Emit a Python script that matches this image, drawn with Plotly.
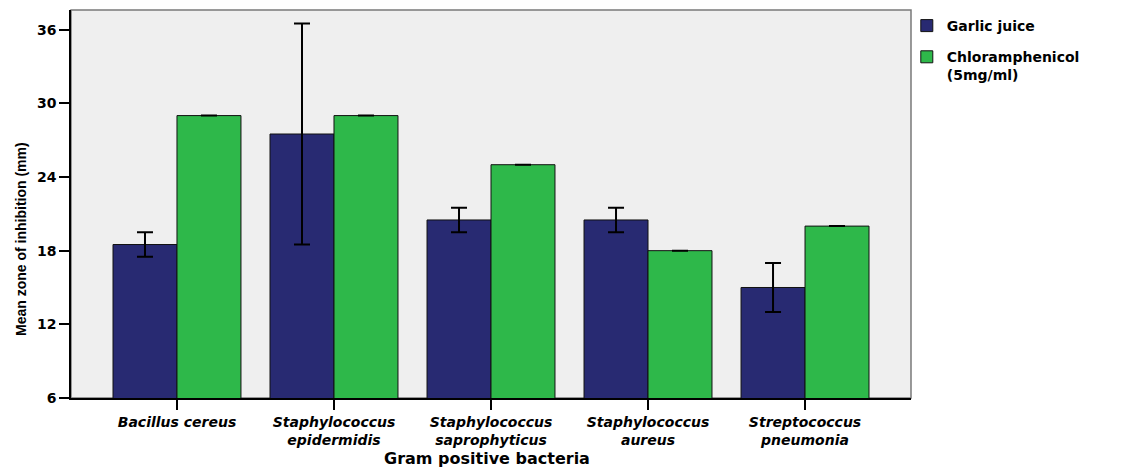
import plotly.graph_objects as go

categories = ["Bacillus cereus", "Staphylococcus<br>epidermidis", "Staphylococcus<br>saprophyticus",
              "Staphylococcus<br>aureus", "Streptococcus<br>pneumonia"]
garlic = [18.5, 27.5, 20.5, 20.5, 15.0]
garlic_err = [1.0, 9.0, 1.0, 1.0, 2.0]
chloram = [29.0, 29.0, 25.0, 18.0, 20.0]
chloram_err = [0.0, 0.0, 0.0, 0.0, 0.0]
y_ticks = [6, 12, 18, 24, 30, 36]

FONT = "DejaVu Sans, Liberation Sans, Arial"

fig = go.Figure()
fig.add_trace(go.Bar(
    x=categories, y=garlic, name="Garlic juice", legendgroup="g1",
    marker=dict(color="#282A72", line=dict(color="#111111", width=1)),
    error_y=dict(type="data", array=garlic_err, color="black", thickness=2, width=8),
))
fig.add_trace(go.Bar(
    x=categories, y=chloram, name="Chloramphenicol<br>(5mg/ml)", legendgroup="g2",
    marker=dict(color="#2EB84A", line=dict(color="#111111", width=1)),
    error_y=dict(type="data", array=chloram_err, color="black", thickness=2, width=8),
))

# page has an 8px body margin, so the figure is 8px smaller on each axis
fig.update_layout(
    width=1130, height=464,
    margin=dict(l=63, r=227, t=2, b=74),
    paper_bgcolor="white", plot_bgcolor="#EFEFEF",
    barmode="group", bargap=0.185, bargroupgap=0,
    font=dict(family=FONT, color="black"),
    legend=dict(x=0.995, xanchor="left", y=1.0, yanchor="top",
                font=dict(family=FONT, size=14, weight="bold"),
                valign="top", traceorder="grouped", tracegroupgap=10,
                bgcolor="rgba(0,0,0,0)"),
    showlegend=True,
)
fig.update_xaxes(
    range=[-0.675, 4.675], showline=True, linecolor="black", linewidth=1.5,
    ticks="outside", ticklen=10, tickwidth=2, tickcolor="black",
    tickfont=dict(family=FONT, size=14, weight="bold", style="italic"),
    showgrid=False, zeroline=False,
)
fig.update_yaxes(
    range=[6, 37.6], tickvals=y_ticks, showline=True, linecolor="black", linewidth=1.5,
    ticks="outside", ticklen=10, tickwidth=1.5, tickcolor="black",
    tickfont=dict(family=FONT, size=14, weight="bold"),
    showgrid=False, zeroline=False,
)
fig.add_shape(type="rect", xref="paper", yref="paper", x0=0, x1=1, y0=0, y1=1,
              line=dict(color="#7a7a7a", width=1.5), layer="below")
fig.add_annotation(text="Mean zone of inhibition (mm)", xref="paper", yref="paper",
                   x=(21 - 71) / 840, y=(398 - 239) / 388, xanchor="center", yanchor="middle",
                   textangle=-90, showarrow=False,
                   font=dict(family="Liberation Sans Narrow, Liberation Sans, Arial",
                             size=14, weight="bold", color="black"))
fig.add_annotation(text="Gram positive bacteria", xref="paper", yref="paper",
                   x=(487 - 71) / 840, y=(398 - 459) / 388, xanchor="center", yanchor="middle",
                   showarrow=False, font=dict(family=FONT, size=16, weight="bold", color="black"))

fig.write_html("out.html")
